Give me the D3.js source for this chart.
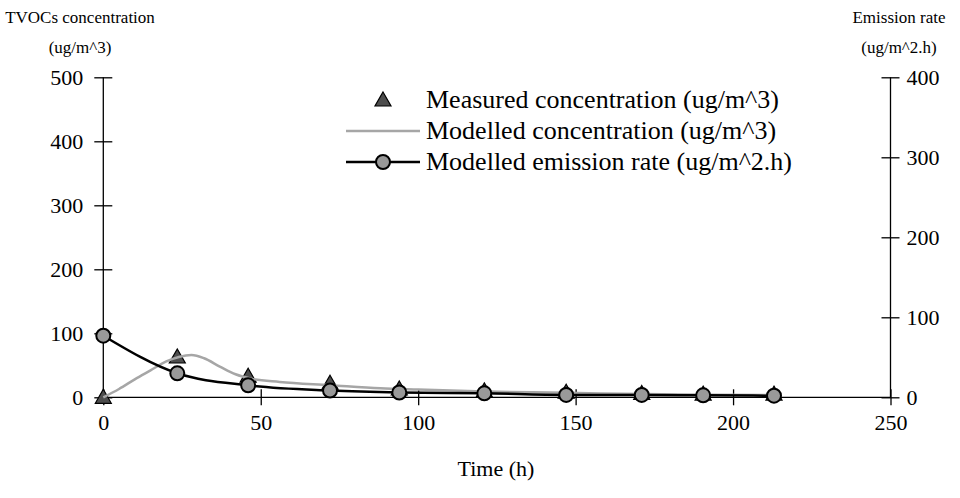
<!DOCTYPE html>
<html><head><meta charset="utf-8">
<script src="https://cdn.jsdelivr.net/npm/d3@7"></script>
<style>body{margin:0;background:#fff}svg{display:block}</style>
</head><body>
<svg id="c" width="960" height="498"></svg>
<script>
const time = [0, 23.5, 46, 72, 94, 121, 147, 171, 190.5, 213];
const measured = [0, 63, 33, 22, 13, 10, 8, 6, 5, 5];
const emission = [77, 30, 15, 8.5, 6, 5, 3, 3, 2.5, 2];
const modelTime = [0, 5, 10, 15, 20, 24, 28, 32, 37, 42, 47, 56, 72, 88, 100, 121, 147, 171, 191, 213];
const modelConc = [0, 13, 28, 42, 56, 63, 66, 61, 48, 36, 29, 24, 19, 14, 12, 9, 7, 5, 4, 3.5];
const xTicks = [0, 50, 100, 150, 200, 250];
const yLeftTicks = [0, 100, 200, 300, 400, 500];
const yRightTicks = [0, 100, 200, 300, 400];
const legendLabels = ["Measured concentration (ug/m^3)", "Modelled concentration (ug/m^3)", "Modelled emission rate (ug/m^2.h)"];

const FONT = "'Liberation Serif', 'Times New Roman', Times, serif";
const svg = d3.select("#c");
const L = 103.3, R = 890.5, T = 77.3, B = 397.3;
const x = d3.scaleLinear().domain([0, 250]).range([L, R]);
const yL = d3.scaleLinear().domain([0, 500]).range([B, T]);
const yR = d3.scaleLinear().domain([0, 400]).range([B, T]);

function styleAxis(g) {
  g.attr("font-family", FONT).attr("font-size", 22);
  g.select(".domain").attr("stroke", "#000").attr("stroke-width", 1.3);
  g.selectAll(".tick line").attr("stroke", "#000").attr("stroke-width", 1.3);
  g.selectAll(".tick text").attr("fill", "#000").style("font-family", FONT).style("font-size", "22px");
}
const gx = svg.append("g").attr("transform", `translate(0,${B})`)
  .call(d3.axisBottom(x).tickValues(xTicks).tickSize(0).tickPadding(14).tickFormat(d3.format("d")));
gx.selectAll(".tick line").attr("y1", -8).attr("y2", 8);
styleAxis(gx);
gx.select(".domain").attr("d", `M${L},0H${R}`);
gx.selectAll(".tick text").attr("dy", "0.85em");

const gl = svg.append("g").attr("transform", `translate(${L},0)`)
  .call(d3.axisLeft(yL).tickValues(yLeftTicks).tickSize(0).tickPadding(20).tickFormat(d3.format("d")));
gl.selectAll(".tick line").attr("x1", -9).attr("x2", 9);
styleAxis(gl);
gl.select(".domain").attr("d", `M0,${B}V${T}`);

const gr = svg.append("g").attr("transform", `translate(${R},0)`)
  .call(d3.axisRight(yR).tickValues(yRightTicks).tickSize(0).tickPadding(16).tickFormat(d3.format("d")));
gr.selectAll(".tick line").attr("x1", -9).attr("x2", 9);
styleAxis(gr);
gr.select(".domain").attr("d", `M0,${B}V${T}`);

function txt(xp, yp, s, size, anchor) {
  return svg.append("text").attr("x", xp).attr("y", yp).attr("text-anchor", anchor || "middle")
    .style("font-family", FONT).style("font-size", size + "px").attr("fill", "#000").text(s);
}
txt(80, 23, "TVOCs concentration", 17);
txt(80, 53, "(ug/m^3)", 17);
txt(899, 23, "Emission rate", 17);
txt(899, 53, "(ug/m^2.h)", 17);
txt(496, 476, "Time (h)", 22);

const triPath = "M0,-8L8,6L-8,6Z";

svg.append("g").selectAll("path").data(time).join("path")
  .attr("d", triPath)
  .attr("transform", (d, i) => `translate(${x(d)},${yL(measured[i])})`)
  .attr("fill", "#4d4d4d").attr("stroke", "#000").attr("stroke-width", 1.2);

const mc = modelTime.map((t, i) => [t, modelConc[i]]);
svg.append("path").datum(mc)
  .attr("d", d3.line().x(d => x(d[0])).y(d => yL(d[1])).curve(d3.curveMonotoneX))
  .attr("fill", "none").attr("stroke", "#a6a6a6").attr("stroke-width", 2.5);

const em = time.map((t, i) => [t, emission[i]]);
svg.append("path").datum(em)
  .attr("d", d3.line().x(d => x(d[0])).y(d => yR(d[1])).curve(d3.curveMonotoneX))
  .attr("fill", "none").attr("stroke", "#000").attr("stroke-width", 2.5);
svg.append("g").selectAll("circle").data(em).join("circle")
  .attr("cx", d => x(d[0])).attr("cy", d => yR(d[1])).attr("r", 7)
  .attr("fill", "#999").attr("stroke", "#000").attr("stroke-width", 2);

const lg = svg.append("g");
const rowsY = [100, 131, 162];
const lx1 = 346, lx2 = 420, lmid = 383;
lg.append("path").attr("d", triPath).attr("transform", `translate(${lmid},${rowsY[0]})`)
  .attr("fill", "#4d4d4d").attr("stroke", "#000").attr("stroke-width", 1.2);
lg.append("line").attr("x1", lx1).attr("x2", lx2).attr("y1", rowsY[1]).attr("y2", rowsY[1])
  .attr("stroke", "#a6a6a6").attr("stroke-width", 2.5);
lg.append("line").attr("x1", lx1).attr("x2", lx2).attr("y1", rowsY[2]).attr("y2", rowsY[2])
  .attr("stroke", "#000").attr("stroke-width", 2.5);
lg.append("circle").attr("cx", lmid).attr("cy", rowsY[2]).attr("r", 7)
  .attr("fill", "#999").attr("stroke", "#000").attr("stroke-width", 2);
legendLabels.forEach((s, i) => txt(426, rowsY[i] + 8, s, 26, "start"));
</script>
</body></html>
